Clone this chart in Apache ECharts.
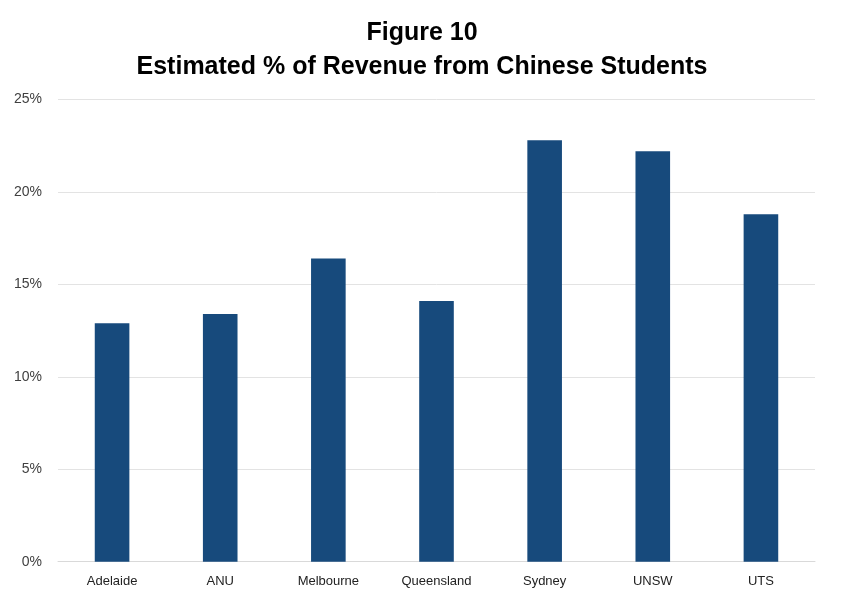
<!DOCTYPE html>
<html>
<head>
<meta charset="utf-8">
<script src="https://cdn.jsdelivr.net/npm/echarts@6/dist/echarts.min.js"></script>
<style>
  html, body { margin: 0; padding: 0; background: #fff; }
  #chart { width: 844px; height: 610px; }
</style>
</head>
<body>
<div id="chart"></div>
<script>
// data
var universities = ['Adelaide', 'ANU', 'Melbourne', 'Queensland', 'Sydney', 'UNSW', 'UTS'];
var revenueShare = [12.9, 13.4, 16.4, 14.1, 22.8, 22.2, 18.8];
var yTicks = [0, 5, 10, 15, 20, 25];

var chart = echarts.init(document.getElementById('chart'), null, { renderer: 'canvas' });

var option = {
  backgroundColor: '#ffffff',
  title: {
    text: 'Figure 10\nEstimated % of Revenue from Chinese Students',
    left: 'center',
    top: 11,
    textStyle: {
      fontFamily: 'Liberation Sans',
      fontWeight: 'bold',
      fontSize: 25,
      lineHeight: 34,
      color: '#000000'
    }
  },
  grid: {
    left: 58,
    right: 29,
    top: 99.5,
    bottom: 48.3
  },
  xAxis: {
    type: 'category',
    data: universities,
    axisTick: { show: false },
    axisLine: { lineStyle: { color: '#d9d9d9', width: 1 } },
    axisLabel: {
      margin: 13,
      fontFamily: 'Liberation Sans',
      fontSize: 13,
      color: '#222222'
    }
  },
  yAxis: {
    type: 'value',
    min: yTicks[0],
    max: yTicks[yTicks.length - 1],
    interval: 5,
    axisLine: { show: false },
    axisTick: { show: false },
    splitLine: { lineStyle: { color: '#e3e3e3', width: 1 } },
    axisLabel: {
      margin: 16,
      fontFamily: 'Liberation Sans',
      fontSize: 14,
      color: '#404040',
      formatter: '{value}%'
    }
  },
  series: [{
    type: 'bar',
    data: revenueShare,
    barWidth: '32%',
    itemStyle: { color: '#174a7c' },
    silent: true
  }]
};

chart.setOption(option);
</script>
</body>
</html>
